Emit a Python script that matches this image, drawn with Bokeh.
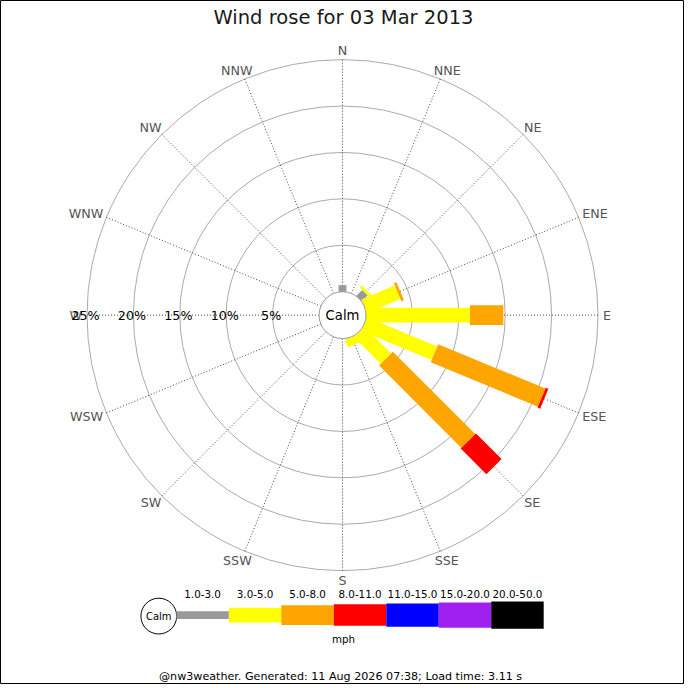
import numpy as np
from bokeh.plotting import figure
from bokeh.models import Range1d
from bokeh.core.properties import value
from bokeh.embed import file_html
from bokeh.resources import INLINE

# ---------------- data ----------------
directions = ["N", "NNE", "NE", "ENE", "E", "ESE", "SE", "SSE",
              "S", "SSW", "SW", "WSW", "W", "WNW", "NW", "NNW"]
speed_bins = ["1.0-3.0", "3.0-5.0", "5.0-8.0", "8.0-11.0",
              "11.0-15.0", "15.0-20.0", "20.0-50.0"]
pct_1_3 = [0.7, 0, 0.9, 0, 0, 0, 0, 0, 0, 0, 0, 0, 0, 0, 0, 0]
pct_3_5 = [0, 0, 0.3, 3.9, 11.2, 8.2, 4.1, 0.9, 0, 0, 0, 0, 0, 0, 0, 0]
pct_5_8 = [0, 0, 0, 0.3, 3.6, 12.5, 12.55, 0, 0, 0, 0, 0, 0, 0, 0, 0]
pct_8_11 = [0, 0, 0, 0, 0, 0.3, 3.9, 0, 0, 0, 0, 0, 0, 0, 0, 0]
pct_11_15 = [0] * 16
pct_15_20 = [0] * 16
pct_20_50 = [0] * 16
ring_pcts = [5, 10, 15, 20, 25]
ring_labels = ["5%", "10%", "15%", "20%", "25%"]
title_text = "Wind rose for 03 Mar 2013"
unit_text = "mph"
footer_text = "@nw3weather. Generated: 11 Aug 2026 07:38; Load time: 3.11 s"

series = [pct_1_3, pct_3_5, pct_5_8, pct_8_11, pct_11_15, pct_15_20, pct_20_50]
colors = ["#999999", "#ffff00", "#ffa500", "#ff0000", "#0000ff", "#a020f0", "#000000"]
thick_px = [8, 15, 20, 22, 24, 26, 28]

# ---------------- geometry helpers ----------------
S = 684 / 700.0          # page scale
PX = 9.5                 # reference px per percent
CALM_PX = 24.0           # calm circle radius (ref px)
FONT = value("DejaVu Sans")


def u(px):
    return px / PX


def P(xr, yr):
    return ((xr - 350) / PX, (322 - yr) / PX)


def fs(px):
    return value(f"{px * S:.2f}px")


p = figure(width=684, height=684,
           x_range=Range1d(-350 / PX, 350 / PX),
           y_range=Range1d((322 - 700) / PX, 322 / PX),
           x_axis_type=None, y_axis_type=None,
           output_backend="svg", toolbar_location=None, min_border=0)
p.grid.visible = False
p.outline_line_color = "black"
p.outline_line_width = 1
p.background_fill_color = "white"
p.border_fill_color = "white"

base = u(CALM_PX)
outer = base + ring_pcts[-1]
theta = np.deg2rad(np.arange(16) * 22.5)
dx, dy = np.sin(theta), np.cos(theta)

# rings
p.circle(x=[0] * len(ring_pcts), y=[0] * len(ring_pcts),
         radius=[base + r for r in ring_pcts],
         fill_color=None, line_color="#aaaaaa", line_width=1)

# radial dotted lines
p.segment(x0=base * dx, y0=base * dy, x1=outer * dx, y1=outer * dy,
          line_color="#444444", line_width=1, line_dash="1 2")

# bars
cum = np.zeros(16)
for vals, col, th in zip(series, colors, thick_px):
    vals = np.asarray(vals, dtype=float)
    hw = u(th) / 2
    xs, ys = [], []
    for i in range(16):
        if vals[i] <= 0:
            continue
        r0 = base + cum[i]
        r1 = base + cum[i] + vals[i]
        nx, ny = dy[i], -dx[i]
        xs.append([r0 * dx[i] + hw * nx, r1 * dx[i] + hw * nx,
                   r1 * dx[i] - hw * nx, r0 * dx[i] - hw * nx])
        ys.append([r0 * dy[i] + hw * ny, r1 * dy[i] + hw * ny,
                   r1 * dy[i] - hw * ny, r0 * dy[i] - hw * ny])
    if xs:
        p.patches(xs=xs, ys=ys, fill_color=col, line_color=None)
    cum += vals

# calm circle
p.circle(x=[0], y=[0], radius=[base], fill_color="white", line_color="#999999")
p.text(x=[0], y=[0], text=["Calm"], text_align="center", text_baseline="middle",
       text_font=FONT, text_font_size=fs(13.5), text_color="#000000")

# direction labels
cw = {"N": 0.748, "E": 0.632, "S": 0.635, "W": 0.989}
lab_fs = 13.0
lx, ly = [], []
r_end = CALM_PX + ring_pcts[-1] * PX
for i, d in enumerate(directions):
    w = sum(cw[c] for c in d) * lab_fs
    h = 0.73 * lab_fs
    cx = (r_end + 5) * dx[i] + w / 2 * dx[i]
    cy = (r_end + 5) * dy[i] + h / 2 * dy[i]
    lx.append(cx / PX)
    ly.append(cy / PX)
p.text(x=lx, y=ly, text=directions, text_align="center", text_baseline="middle",
       text_font=FONT, text_font_size=fs(lab_fs), text_color="#555555")

# percentage labels along W axis
p.text(x=[-(base + r) - u(1.5) for r in ring_pcts], y=[0] * len(ring_pcts),
       text=ring_labels, text_align="center", text_baseline="middle",
       text_font=FONT, text_font_size=fs(13), text_color="#000000")

# title
tx, ty = P(351, 17)
p.text(x=[tx], y=[ty], text=[title_text], text_align="center", text_baseline="middle",
       text_font=FONT, text_font_size=fs(20), text_color="#1a1a1a")

# legend
cx, cy = P(162, 630)
p.circle(x=[cx], y=[cy], radius=[u(18.3)], fill_color="white", line_color="#000000")
p.text(x=[cx], y=[cy], text=["Calm"], text_align="center", text_baseline="middle",
       text_font=FONT, text_font_size=fs(10.2), text_color="#000000")
seg = 53.7
bx = [P(180 + seg * (k + 0.5), 629)[0] for k in range(len(speed_bins))]
by = P(0, 629)[1]
p.rect(x=bx, y=[by] * len(bx), width=u(seg), height=[u(t) for t in thick_px],
       fill_color=colors, line_color=None)
p.text(x=bx, y=[P(0, 607)[1]] * len(bx), text=speed_bins, text_align="center",
       text_baseline="middle", text_font=FONT, text_font_size=fs(10.6),
       text_color="#000000")
mx, my = P(351, 653)
p.text(x=[mx], y=[my], text=[unit_text], text_align="center", text_baseline="middle",
       text_font=FONT, text_font_size=fs(10.5), text_color="#000000")
fx, fy = P(348, 691.5)
p.text(x=[fx], y=[fy], text=[footer_text], text_align="center", text_baseline="middle",
       text_font=FONT, text_font_size=fs(11.4), text_color="#000000")

open("out.html", "w").write(file_html(p, INLINE))
